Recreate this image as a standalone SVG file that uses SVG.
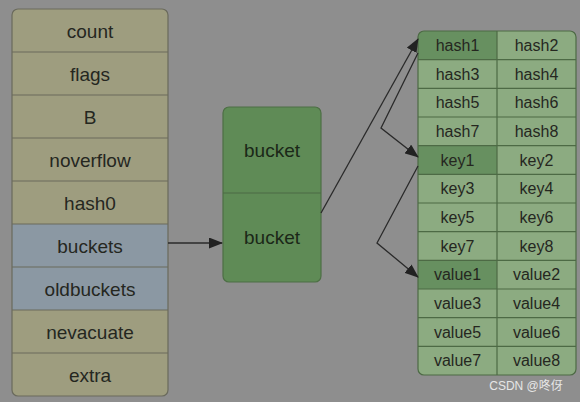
<svg xmlns="http://www.w3.org/2000/svg" width="580" height="402" viewBox="0 0 580 402">
<style>
text{font-family:"Liberation Sans",Arial,sans-serif;fill:#25271f;text-anchor:middle;dominant-baseline:central}
.lt{font-size:19px}
.tt{font-size:16px}
.bk{font-size:19px;fill:#1b2818}
.ln{stroke:#6a6a5c;stroke-width:1.2;fill:none}
.gl{stroke:#4d6a45;stroke-width:1.2;fill:none}
.cn{stroke:#2a2a2a;stroke-width:1.3;fill:none}
</style>
<defs>
<marker id="ah" markerWidth="14" markerHeight="11" refX="13" refY="5.5" orient="auto" markerUnits="userSpaceOnUse" viewBox="0 0 14 11">
<path d="M0,0 L14,5.5 L0,11 Z" fill="#222"/>
</marker>
<clipPath id="lc"><rect x="12" y="9" width="156" height="387" rx="6"/></clipPath>
<clipPath id="tc"><rect x="418" y="31" width="158" height="344" rx="6"/></clipPath>
</defs>
<rect width="580" height="402" fill="#8e8e8e"/>
<g id="hmap">
<g clip-path="url(#lc)">
<rect x="12" y="9" width="156" height="387" fill="#9e9d7f"/>
<rect x="12" y="224" width="156" height="86" fill="#8b98a3"/>
</g>
<rect x="12" y="9" width="156" height="387" rx="6" class="ln"/>
<path class="ln" d="M12 52H168M12 95H168M12 138H168M12 181H168M12 224H168M12 267H168M12 310H168M12 353H168"/>
<text class="lt" x="90" y="31">count</text>
<text class="lt" x="90" y="74">flags</text>
<text class="lt" x="90" y="117">B</text>
<text class="lt" x="90" y="160">noverflow</text>
<text class="lt" x="90" y="203">hash0</text>
<text class="lt" x="90" y="246">buckets</text>
<text class="lt" x="90" y="289">oldbuckets</text>
<text class="lt" x="90" y="332">nevacuate</text>
<text class="lt" x="90" y="375">extra</text>
</g>
<g id="buckets">
<rect x="223" y="107" width="98" height="175" rx="6" fill="#5f8b56" stroke="#4d6f45" stroke-width="1.2"/>
<path class="gl" d="M223 193H321" stroke="#3f5a38"/>
<text class="bk" x="272" y="150">bucket</text>
<text class="bk" x="272" y="237">bucket</text>
</g>
<g id="bmap">
<g clip-path="url(#tc)">
<rect x="418" y="31" width="158" height="344" fill="#8cab81"/>
<rect x="418" y="31" width="79" height="28.7" fill="#679060"/>
<rect x="418" y="145.7" width="79" height="28.7" fill="#679060"/>
<rect x="418" y="260.3" width="79" height="28.7" fill="#679060"/>
</g>
<rect x="418" y="31" width="158" height="344" rx="6" class="gl"/>
<path class="gl" d="M497 31V375M418 59.7H576M418 88.3H576M418 117H576M418 145.7H576M418 174.3H576M418 203H576M418 231.7H576M418 260.3H576M418 289H576M418 317.7H576M418 346.3H576"/>
<g class="tt">
<text x="457.5" y="45.3">hash1</text><text x="536.5" y="45.3">hash2</text>
<text x="457.5" y="74">hash3</text><text x="536.5" y="74">hash4</text>
<text x="457.5" y="102.7">hash5</text><text x="536.5" y="102.7">hash6</text>
<text x="457.5" y="131.3">hash7</text><text x="536.5" y="131.3">hash8</text>
<text x="457.5" y="160">key1</text><text x="536.5" y="160">key2</text>
<text x="457.5" y="188.7">key3</text><text x="536.5" y="188.7">key4</text>
<text x="457.5" y="217.3">key5</text><text x="536.5" y="217.3">key6</text>
<text x="457.5" y="246">key7</text><text x="536.5" y="246">key8</text>
<text x="457.5" y="274.7">value1</text><text x="536.5" y="274.7">value2</text>
<text x="457.5" y="303.3">value3</text><text x="536.5" y="303.3">value4</text>
<text x="457.5" y="332">value5</text><text x="536.5" y="332">value6</text>
<text x="457.5" y="360.7">value7</text><text x="536.5" y="360.7">value8</text>
</g>
</g>
<g id="connectors">
<path class="cn" d="M168 243H222" marker-end="url(#ah)"/>
<path class="cn" d="M321 213L418 39" marker-end="url(#ah)"/>
<path class="cn" d="M418 53L381 128L418 157" marker-end="url(#ah)"/>
<path class="cn" d="M418 166L377 243L418 277" marker-end="url(#ah)"/>
</g>
<text x="526" y="386" style="font-size:12px;fill:#e6e6e6;font-family:'Liberation Sans','Noto Sans CJK SC',sans-serif">CSDN @咚伢</text>
</svg>
